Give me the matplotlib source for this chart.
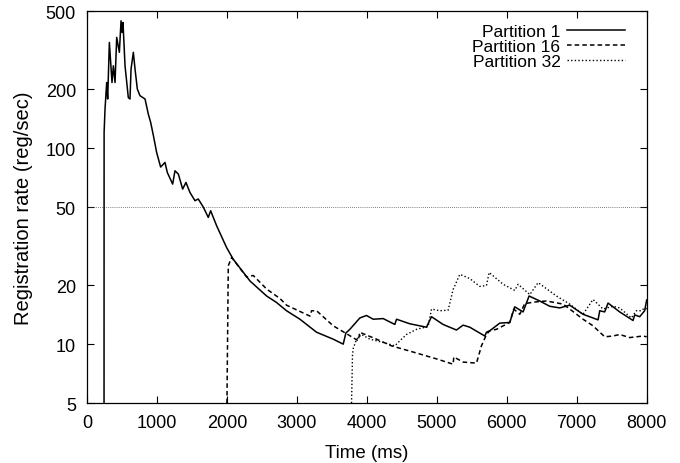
import matplotlib
matplotlib.use("Agg")
import matplotlib.pyplot as plt
from matplotlib.ticker import FixedLocator, FixedFormatter, NullLocator

plt.rcParams['font.family'] = ['Liberation Sans', 'DejaVu Sans']

# Partition 1 (solid)
t1 = [243, 244, 257, 281, 295, 319, 357, 376, 400, 424, 462, 486, 500, 514, 543,
      590, 614, 629, 662, 686, 719, 757, 829, 876, 910, 948, 995, 1052, 1114, 1148,
      1224, 1257, 1305, 1367, 1414, 1471, 1543, 1590, 1662, 1733, 1767, 1852, 1995,
      2090, 2329, 2567, 2710, 2852, 3043, 3281, 3519, 3662, 3700, 3757, 3900, 3995,
      4090, 4233, 4400, 4424, 4614, 4852, 4924, 5090, 5281, 5376, 5471, 5686, 5710,
      5757, 5900, 6043, 6114, 6233, 6319, 6471, 6614, 6757, 6900, 7090, 7305, 7329,
      7400, 7448, 7614, 7805, 7829, 7900, 7971, 8000]
v1 = [5, 120, 158, 216, 178, 346, 216, 263, 216, 367, 308, 446, 389, 437, 263,
      181, 178, 253, 308, 253, 200, 185, 178, 149, 135, 116, 95, 80, 84.5, 75,
      65.5, 76.6, 73.7, 61.8, 66.8, 59.4, 53.9, 55, 50, 44.3, 47.9, 40.2, 31.1,
      27.1, 21, 17.6, 16.3, 14.8, 13.4, 11.5, 10.6, 10, 11.4, 11.9, 13.6, 14,
      13.4, 13.5, 12.6, 13.4, 12.7, 12.2, 13.8, 12.6, 11.8, 12.5, 12.2, 11, 11.5,
      11.7, 12.8, 12.9, 15.5, 14.6, 17.6, 16.6, 15.6, 15.3, 15.8, 14.2, 13.3, 14.8,
      14.6, 16.2, 14.6, 13.2, 14.1, 13.8, 14.8, 16.8]

# Partition 16 (dashed)
t16 = [2000, 2019, 2067, 2281, 2376, 2567, 2757, 2852, 3186, 3210, 3281, 3519,
       3710, 3876, 3900, 3948, 4138, 4352, 4667, 5000, 5233, 5243, 5376, 5567,
       5638, 5710, 5757, 5852, 6043, 6100, 6186, 6257, 6400, 6567, 6805, 6900,
       7090, 7233, 7400, 7519, 7614, 7757, 7948, 8000]
v16 = [5, 25.1, 27.7, 22, 22.4, 19.1, 17.1, 15.8, 13.9, 14.8, 14.8, 12.4,
       11.3, 10.4, 11.5, 11.3, 10.6, 9.8, 9.1, 8.4, 7.9, 8.6, 8.1, 8,
       9.8, 11.2, 11.7, 11.9, 12.9, 15.1, 14.2, 16.1, 16.4, 16.6, 16, 15.1,
       13.4, 12.4, 10.9, 11, 11.2, 10.8, 11, 10.9]

# Partition 32 (dotted)
t32 = [3781, 3795, 3805, 3852, 3924, 4043, 4233, 4400, 4471, 4567, 4710, 4876,
       4924, 5043, 5162, 5233, 5329, 5471, 5614, 5710, 5748, 5948, 6114, 6162,
       6329, 6448, 6710, 6900, 7090, 7233, 7376, 7519, 7614, 7781, 7852, 7924,
       7971, 8000]
v32 = [5, 8.9, 9.5, 10.6, 11.2, 10.6, 10.2, 9.8, 10.4, 11.2, 11.9, 12.3,
       15.1, 14.8, 14.9, 19, 22.7, 21.6, 19.7, 19.9, 23.2, 20.2, 18.8, 20.2,
       17.9, 20.6, 17.6, 16, 14.2, 16.9, 15.1, 15.6, 15.3, 13.6, 14.8, 14.8,
       15.3, 15.1]

yticks = [5, 10, 20, 50, 100, 200, 500]
xticks = [0, 1000, 2000, 3000, 4000, 5000, 6000, 7000, 8000]

fig = plt.figure(figsize=(6.8, 4.64), dpi=100)
ax = fig.add_axes([0.128, 0.129, 0.823, 0.845])

ax.axhline(50, color='#555555', lw=0.6, ls=(0, (1, 1.5)))
ax.plot(t1, v1, color='black', lw=1.1, label='Partition 1')
ax.plot(t16, v16, color='black', lw=1.1, ls=(0, (3, 2)), label='Partition 16')
ax.plot(t32, v32, color='black', lw=1.0, ls=(0, (1, 1.6)), label='Partition 32')

ax.set_yscale('log')
ax.set_xlim(0, 8000)
ax.set_ylim(5, 500)
ax.yaxis.set_major_locator(FixedLocator(yticks))
ax.yaxis.set_major_formatter(FixedFormatter([str(v) for v in yticks]))
ax.yaxis.set_minor_locator(NullLocator())
ax.set_xticks(xticks)
ax.tick_params(direction='in', top=True, right=True, length=5, labelsize=13, width=0.8)
ax.tick_params(axis='x', pad=8)
ax.tick_params(axis='y', pad=8)
for s in ax.spines.values():
    s.set_linewidth(0.9)

ax.set_xlabel('Time (ms)', fontsize=13.5, labelpad=9)
ax.set_ylabel('Registration rate (reg/sec)', fontsize=14.5)
ax.yaxis.set_label_coords(-0.096, 0.5)

ax.legend(loc='upper right', bbox_to_anchor=(0.973, 0.985), frameon=False,
          markerfirst=False, fontsize=12.5, handlelength=3.3, labelspacing=0.0,
          borderaxespad=0, handletextpad=0.4)

fig.savefig('out.png', dpi=100)
